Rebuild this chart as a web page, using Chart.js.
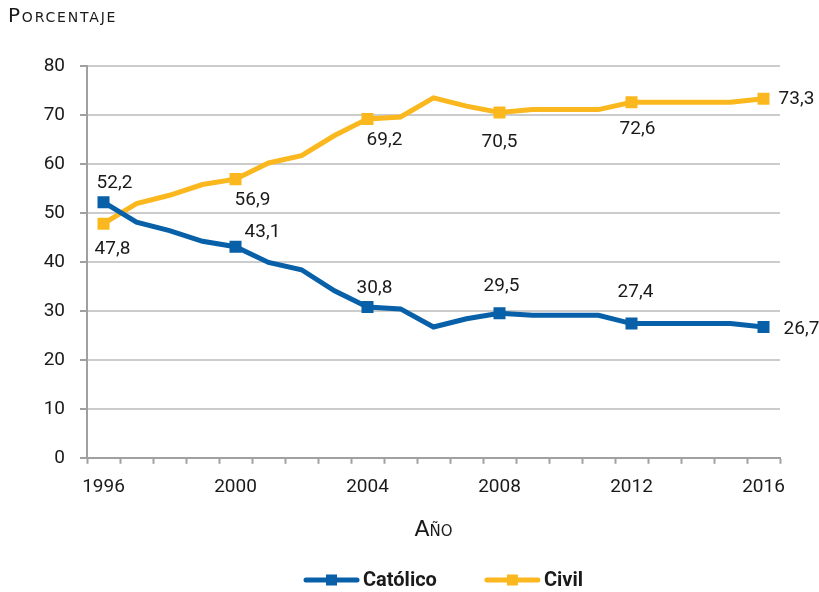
<!DOCTYPE html>
<html lang="es">
<head>
<meta charset="UTF-8">
<title>Porcentaje de matrimonios por tipo</title>
<script src="https://cdn.jsdelivr.net/npm/chart.js"></script>
<style>
  html, body { margin: 0; padding: 0; background: #fff; }
  #wrap { width: 819px; height: 592px; }
</style>
</head>
<body>
<div id="wrap"><canvas id="chart" width="819" height="592"></canvas></div>
<script>
const years = [1996, 1997, 1998, 1999, 2000, 2001, 2002, 2003, 2004, 2005, 2006,
               2007, 2008, 2009, 2010, 2011, 2012, 2013, 2014, 2015, 2016];
const catolico = [52.2, 48.1, 46.4, 44.2, 43.1, 39.9, 38.4, 34.1, 30.8, 30.4, 26.7,
                  28.4, 29.5, 29.1, 29.1, 29.1, 27.4, 27.4, 27.4, 27.4, 26.7];
const civil = [47.8, 51.9, 53.6, 55.8, 56.9, 60.2, 61.7, 65.8, 69.2, 69.6, 73.5,
               71.8, 70.5, 71.1, 71.1, 71.1, 72.6, 72.6, 72.6, 72.6, 73.3];
// years whose value is marked and labelled
const labelledYears = [1996, 2000, 2004, 2008, 2012, 2016];

const FONT = "Roboto, 'Liberation Sans', sans-serif";
const CAPS_FONT = "'DejaVu Sans', sans-serif";
const BLUE = '#0860a8';
const YELLOW = '#fbb81e';
const TEXT = '#1a1a1a';

// label offsets (dx, dy) from each marked point, in the order of labelledYears
const catolicoOffsets = [[11, -19], [27, -14], [7, -19], [2, -27], [4, -31], [38, 2]];
const civilOffsets = [[9, 26], [17, 21], [17, 21], [0, 30], [6, 27], [33, 0]];

function isLabelled(i) { return labelledYears.includes(years[i]); }

const valueLabels = {
  id: 'valueLabels',
  afterDatasetsDraw(chart) {
    const ctx = chart.ctx;
    ctx.save();
    ctx.font = '19px ' + FONT;
    ctx.fillStyle = TEXT;
    ctx.textAlign = 'center';
    ctx.textBaseline = 'middle';
    chart.data.datasets.forEach((ds, di) => {
      const meta = chart.getDatasetMeta(di);
      const offs = di === 0 ? catolicoOffsets : civilOffsets;
      let k = 0;
      ds.data.forEach((v, i) => {
        if (!isLabelled(i)) return;
        const p = meta.data[i];
        const o = offs[k++];
        ctx.fillText(v.toFixed(1).replace('.', ','), p.x + o[0], p.y + o[1]);
      });
    });
    ctx.restore();
  }
};

// "Porcentaje" heading above the y axis and the legend below the chart
const extras = {
  id: 'extras',
  afterDraw(chart) {
    const ctx = chart.ctx;
    ctx.save();
    ctx.fillStyle = TEXT;
    ctx.textBaseline = 'middle';
    ctx.textAlign = 'left';
    ctx.font = 'small-caps 20px ' + CAPS_FONT;
    ctx.letterSpacing = '1.8px';
    ctx.fillText('Porcentaje', 8, 17);
    ctx.letterSpacing = '0px';

    ctx.font = 'bold 20px ' + FONT;
    const items = chart.data.datasets.map(ds => ({ text: ds.label, color: ds.borderColor }));
    const iconW = 55, gapText = 4, gapItem = 48;
    let total = 0;
    items.forEach((it, i) => {
      it.w = ctx.measureText(it.text).width;
      total += iconW + gapText + it.w + (i ? gapItem : 0);
    });
    const area = chart.chartArea;
    let x = (area.left + area.right) / 2 + 10 - total / 2;
    const y = 580;
    items.forEach(it => {
      ctx.strokeStyle = it.color;
      ctx.lineWidth = 5;
      ctx.lineCap = 'round';
      ctx.beginPath();
      ctx.moveTo(x + 2, y);
      ctx.lineTo(x + iconW - 2, y);
      ctx.stroke();
      ctx.fillStyle = it.color;
      ctx.fillRect(x + iconW / 2 - 5.5, y - 5.5, 11, 11);
      ctx.fillStyle = TEXT;
      ctx.fillText(it.text, x + iconW + gapText, y + 1);
      x += iconW + gapText + it.w + gapItem;
    });
    ctx.restore();
  }
};

const pointR = ctx => isLabelled(ctx.dataIndex) ? 8.5 : 0;

new Chart(document.getElementById('chart'), {
  type: 'line',
  data: {
    labels: years,
    datasets: [
      {
        label: 'Católico',
        data: catolico,
        borderColor: BLUE,
        backgroundColor: BLUE,
        borderWidth: 5,
        pointStyle: 'rect',
        pointRadius: pointR,
        pointHoverRadius: pointR,
        pointBorderWidth: 0,
        tension: 0
      },
      {
        label: 'Civil',
        data: civil,
        borderColor: YELLOW,
        backgroundColor: YELLOW,
        borderWidth: 5,
        pointStyle: 'rect',
        pointRadius: pointR,
        pointHoverRadius: pointR,
        pointBorderWidth: 0,
        tension: 0
      }
    ]
  },
  options: {
    responsive: false,
    animation: false,
    layout: { padding: { left: 0, right: 39, top: 66, bottom: 49 } },
    plugins: {
      legend: { display: false },
      tooltip: { enabled: false }
    },
    scales: {
      x: {
        type: 'category',
        offset: true,
        grid: {
          offset: true,
          drawOnChartArea: false,
          drawTicks: true,
          tickLength: 6,
          tickColor: '#a0a0a0',
          tickWidth: 2
        },
        border: { color: '#a0a0a0', width: 2 },
        ticks: {
          autoSkip: false,
          maxRotation: 0,
          color: TEXT,
          font: { family: FONT, size: 19 },
          padding: 12,
          callback: function (val, i) {
            const y = years[i];
            return (y - 1996) % 4 === 0 ? String(y) : '';
          }
        },
        title: {
          display: true,
          text: 'Año',
          color: TEXT,
          font: { family: CAPS_FONT, size: 22, weight: 'small-caps' },
          padding: { top: 6, bottom: 0 }
        }
      },
      y: {
        min: 0,
        max: 80,
        afterFit: s => { s.width = 87; },
        grid: {
          color: '#cccccc',
          lineWidth: 2,
          drawTicks: true,
          tickLength: 7,
          tickColor: '#a0a0a0',
          tickWidth: 2
        },
        border: { color: '#a0a0a0', width: 2 },
        ticks: {
          stepSize: 10,
          color: TEXT,
          font: { family: FONT, size: 19 },
          padding: 15
        }
      }
    }
  },
  plugins: [valueLabels, extras]
});
</script>
</body>
</html>
